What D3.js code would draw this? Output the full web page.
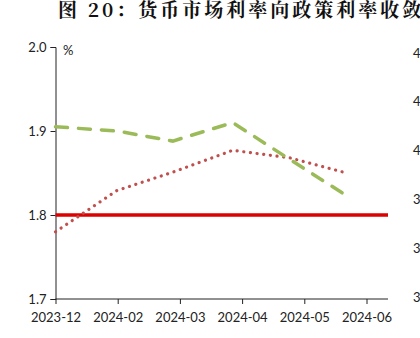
<!DOCTYPE html>
<html>
<head>
<meta charset="utf-8">
<script src="https://cdn.jsdelivr.net/npm/d3@7"></script>
<style>
  html, body { margin: 0; padding: 0; background: #fff; }
  svg { display: block; }
</style>
</head>
<body>
<svg id="chart" width="420" height="338"></svg>
<script>
// Period labels along the bottom axis (one tick per label)
const periods = ["2023-12", "2024-02", "2024-03", "2024-04", "2024-05", "2024-06"];

// Positions of observations, measured in label steps from the first period
const obsPos = [0, 0.985, 1.886, 2.85, 3.77, 4.68];

// Money-market rate (green dashed) and comparison rate (red dotted), %
const marketRate = [1.905, 1.900, 1.888, 1.910, 1.866, 1.823];
const otherRate  = [1.780, 1.829, 1.851, 1.877, 1.868, 1.850];

// Policy rate reference level (red solid), %
const policyRate = 1.80;

// Left axis ticks and the right axis labels (mostly off-canvas)
const leftTicks  = [1.7, 1.8, 1.9, 2.0];
const rightTicks = [4.4, 4.2, 4.0, 3.8, 3.6, 3.4];

const svg = d3.select("#chart");
const plot = { left: 55.5, right: 388, top: 47, bottom: 299 };

const x = d3.scaleLinear().domain([0, 5]).range([plot.left, plot.left + 5 * 62.2]);
const xEnd = x.invert(plot.right);
const y = d3.scaleLinear().domain([1.7, 2.0]).range([plot.bottom, plot.top]);
const yRight = d3.scaleLinear().domain([3.4, 4.4]).range([297, 53]);

// Title
svg.append("text")
  .attr("x", 58).attr("y", 17)
  .attr("font-family", "'Noto Serif CJK SC','Noto Sans CJK SC', serif")
  .attr("font-weight", "bold")
  .attr("font-size", 19)
  .attr("letter-spacing", 3)
  .attr("fill", "#111")
  .text("图 20：货币市场利率向政策利率收敛");

const labelFont = "Lato, 'Open Sans', sans-serif";

// Left axis
const yAxis = d3.axisLeft(y).tickValues(leftTicks).tickFormat(d3.format(".1f")).tickSizeOuter(0).tickSize(5).tickPadding(4);
const gy = svg.append("g").attr("transform", `translate(${plot.left},0)`).call(yAxis);
gy.select(".domain").attr("stroke", "#222");
gy.selectAll(".tick line").attr("stroke", "#222");
gy.selectAll("text").attr("font-family", labelFont).attr("font-size", 13).attr("fill", "#222");

svg.append("text")
  .attr("x", 63).attr("y", 55)
  .attr("font-family", labelFont).attr("font-size", 13).attr("fill", "#222")
  .text("%");

// Bottom axis
const xAxis = d3.axisBottom(x).tickValues(d3.range(periods.length))
  .tickFormat(i => periods[i]).tickSizeOuter(0).tickSize(5).tickPadding(9);
const gx = svg.append("g").attr("transform", `translate(0,${plot.bottom})`).call(xAxis);
gx.select(".domain").attr("d", `M${plot.left},0H${plot.right}`).attr("stroke", "#222");
gx.selectAll(".tick line").attr("stroke", "#222");
gx.selectAll("text").attr("font-family", labelFont).attr("font-size", 13).attr("fill", "#222");

// Right axis labels
svg.append("g").selectAll("text").data(rightTicks).join("text")
  .attr("x", 413).attr("y", d => yRight(d)).attr("dy", "0.35em")
  .attr("font-family", labelFont).attr("font-size", 13).attr("fill", "#222")
  .text(d => d.toFixed(1));

// Policy rate line
svg.append("path")
  .attr("d", d3.line().x(d => x(d)).y(() => y(policyRate))([0, xEnd]))
  .attr("stroke", "#dd0000").attr("stroke-width", 3.5).attr("fill", "none");

const line = d3.line().x(d => x(d[0])).y(d => y(d[1]));

// Comparison rate, dotted
svg.append("path")
  .attr("d", line(obsPos.map((p, i) => [p, otherRate[i]])))
  .attr("stroke", "#c0504d").attr("stroke-width", 3.2)
  .attr("stroke-linecap", "round").attr("stroke-dasharray", "0.1,6.6")
  .attr("fill", "none");

// Money-market rate, dashed
svg.append("path")
  .attr("d", line(obsPos.map((p, i) => [p, marketRate[i]])))
  .attr("stroke", "#9bbb59").attr("stroke-width", 3.5)
  .attr("stroke-linecap", "round").attr("stroke-dasharray", "12,11")
  .attr("fill", "none");
</script>
</body>
</html>
